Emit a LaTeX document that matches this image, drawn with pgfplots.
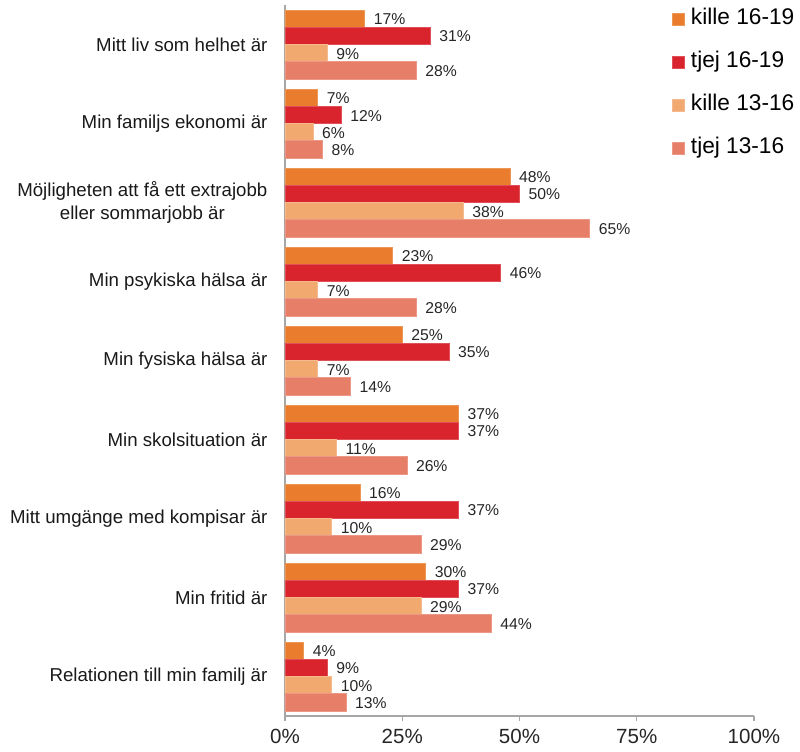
\documentclass[border=0pt]{standalone}
\usepackage{pgfplots}
\pgfplotsset{compat=1.18}
\usepackage{fontspec}
\setmainfont{Liberation Sans}

\definecolor{kilA}{HTML}{E97D2D}
\definecolor{tjeA}{HTML}{D9242E}
\definecolor{kilB}{HTML}{F1A970}
\definecolor{tjeB}{HTML}{E67E68}
\definecolor{axgray}{HTML}{A6A6A6}

\begin{document}
\begin{tikzpicture}
\useasboundingbox (-213.75pt,-26.25pt) rectangle (386.25pt,537pt);
\begin{axis}[
    at={(0pt,0pt)}, anchor=south west,
    scale only axis,
    width=351.75pt, height=533.25pt,
    xbar=0pt,
    bar width=0.218,
    xmin=0, xmax=100,
    ymin=-0.5, ymax=8.5,
    axis x line*=bottom,
    axis y line*=left,
    axis line style={axgray, line width=0.8pt},
    tick align=outside,
    xtick={0,25,50,75,100},
    xtick style={axgray, line width=0.8pt},
    major tick length=3.5pt,
    xticklabel={\pgfmathprintnumber{\tick}\%},
    xticklabel style={font=\fontsize{15.4}{18}\selectfont, text=black!85, yshift=-3pt},
    ytick={0,...,8},
    ytick style={draw=none},
    minor ytick={-0.5,0.5,...,8.5},
    minor tick length=3.5pt,
    minor y tick style={axgray, line width=0.8pt},
    yticklabels={
        Relationen till min familj är,
        Min fritid är,
        Mitt umgänge med kompisar är,
        Min skolsituation är,
        Min fysiska hälsa är,
        Min psykiska hälsa är,
        {Möjligheten att få ett extrajobb\\eller sommarjobb är},
        Min familjs ekonomi är,
        Mitt liv som helhet är},
    yticklabel style={font=\fontsize{14}{17}\selectfont, align=center,
        text=black!90, inner sep=0pt, xshift=-9.5pt},
    /pgf/number format/assume math mode=true,
    nodes near coords={\pgfmathprintnumber{\pgfplotspointmeta}\%},
    nodes near coords style={anchor=west, inner sep=0pt, xshift=6.5pt, yshift=-0.5pt,
        font=\fontsize{11.8}{13}\selectfont, text=black!85},
    legend style={
        at={(0.825,0.995)}, anchor=north west,
        draw=none, fill=none, inner sep=0pt,
        font=\fontsize{17}{19}\selectfont,
        nodes={inner sep=0pt, text height=12pt, text depth=3.5pt},
        row sep=16.75pt,
        /tikz/every odd column/.append style={column sep=4.5pt},
    },
    legend cell align=left,
    legend image code/.code={\fill[#1] (0pt,-4.5pt) rectangle (9pt,4.5pt);},
]

% kille 16-19
\addplot[fill=kilA, draw=kilA!80!white, line width=0.6pt, bar shift=0.327]
    coordinates {(4,0) (30,1) (16,2) (37,3) (25,4) (23,5) (48,6) (7,7) (17,8)};
\addlegendentry{kille 16-19}

% tjej 16-19
\addplot[fill=tjeA, draw=tjeA!80!white, line width=0.6pt, bar shift=0.109]
    coordinates {(9,0) (37,1) (37,2) (37,3) (35,4) (46,5) (50,6) (12,7) (31,8)};
\addlegendentry{tjej 16-19}

% kille 13-16
\addplot[fill=kilB, draw=kilB!80!white, line width=0.6pt, bar shift=-0.109]
    coordinates {(10,0) (29,1) (10,2) (11,3) (7,4) (7,5) (38,6) (6,7) (9,8)};
\addlegendentry{kille 13-16}

% tjej 13-16
\addplot[fill=tjeB, draw=tjeB!80!white, line width=0.6pt, bar shift=-0.327]
    coordinates {(13,0) (44,1) (29,2) (26,3) (14,4) (28,5) (65,6) (8,7) (28,8)};
\addlegendentry{tjej 13-16}

\end{axis}
\end{tikzpicture}
\end{document}
